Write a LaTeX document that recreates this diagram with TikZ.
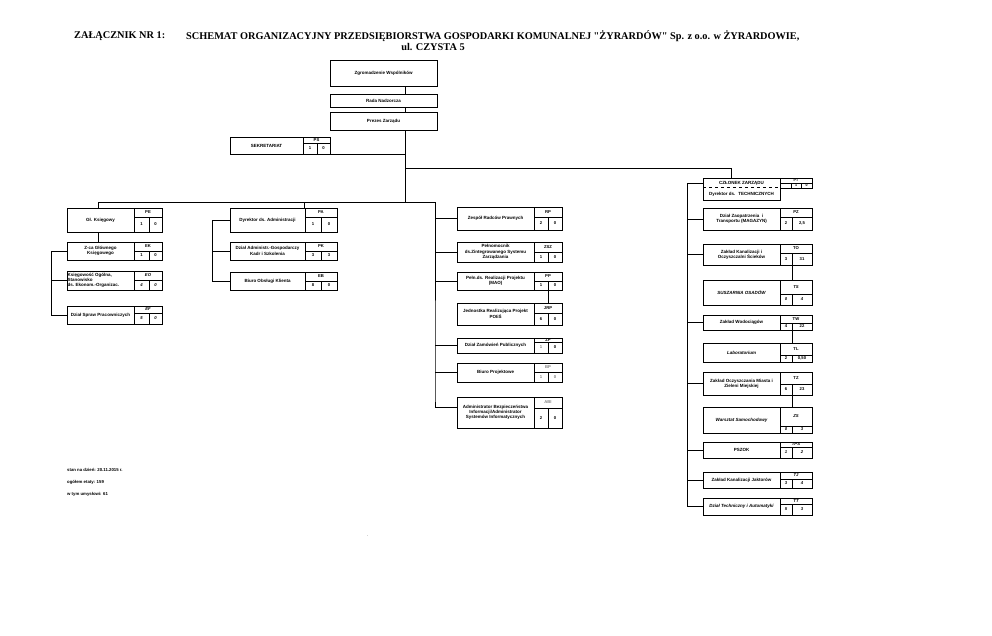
\documentclass[tikz,border=0pt]{standalone}
\usepackage{fontspec}
\setmainfont{Liberation Sans}
\newfontfamily\titlefont{Liberation Serif}
\usetikzlibrary{calc}
\def\splitthree#1/#2/#3\relax{\def\xc{#1}\def\xs{#2}\def\ym{#3}}
\def\splitcodes#1/#2/#3\relax{\def\cA{#1}\def\cB{#2}\def\cC{#3}}
\newcommand\obox[9]{%
  \splitthree#6\relax\splitcodes#8\relax
  \pgfmathsetmacro\bw{#4-#2}\pgfmathsetmacro\bh{#5-#3}%
  \node[boxnode, minimum width=\bw pt, minimum height=\bh pt, anchor=north west] (#1) at (#2,#3) {};
  \node[labtext] (#1-l) at ({(#2+\xc)/2},{(#3+#5)/2}) {#7};
  \draw[inline] (\xc,#3) -- (\xc,#5) (\xc,\ym) -- (#4,\ym) (\xs,\ym) -- (\xs,#5);
  \node[codetext,#9] (#1-c) at ({(\xc+#4)/2},{(#3+\ym)/2}) {\cA};
  \node[codetext,#9] (#1-n) at ({(\xc+\xs)/2},{(\ym+#5)/2}) {\cB};
  \node[codetext,#9] (#1-m) at ({(\xs+#4)/2},{(\ym+#5)/2}) {\cC};
}
\tikzset{
  boxnode/.style={draw, line width=1pt, inner sep=0pt, outer sep=0pt, rectangle},
  labtext/.style={font=\fontsize{4.5}{5.3}\selectfont\bfseries, align=center, inner sep=0pt},
  codetext/.style={font=\fontsize{4.2}{5}\selectfont\bfseries, inner sep=0pt},
  ital/.style={execute at begin node=\itshape},
  inline/.style={line width=0.75pt},
  conn/.style={line width=0.85pt},
  stat/.style={font=\fontsize{4.3}{5}\selectfont\bfseries, anchor=west, inner sep=0pt},
  ttl/.style={font=\titlefont\fontsize{10.3}{12}\selectfont\bfseries, inner sep=0pt}
}
\begin{document}
\begin{tikzpicture}[x=1pt, y=-1pt]
\fill[white] (0,0) rectangle (992,635);
\useasboundingbox (0,0) rectangle (992,635);

% title
\node[ttl, anchor=west] (t0) at (74,36) {ZAŁĄCZNIK NR 1:};
\node[ttl, anchor=west] (t1) at (186,36) {SCHEMAT ORGANIZACYJNY PRZEDSIĘBIORSTWA GOSPODARKI KOMUNALNEJ "ŻYRARDÓW" Sp. z o.o. w ŻYRARDOWIE,};
\node[ttl] (t2) at (433,47) {ul. CZYSTA 5};

% top boxes
\node[boxnode, labtext, minimum width=107pt, minimum height=26pt, anchor=north west] (zw) at (330,60) {Zgromadzenie Wspólników};
\node[boxnode, labtext, minimum width=107pt, minimum height=13pt, anchor=north west] (rn) at (330,94) {Rada Nadzorcza};
\node[boxnode, labtext, minimum width=107pt, minimum height=18pt, anchor=north west] (pr) at (330,112) {Prezes Zarządu};
\obox{sek}{230}{137}{330}{154}{303/317/143}{SEKRETARIAT}{PS/1/0}{}

% left column
\obox{pe}{67}{208}{162}{232}{134/149/217}{Gł. Księgowy}{PE/1/0}{}
\obox{ek}{67}{242}{162}{260}{134/149/251}{Z-ca Głównego\\Księgowego}{EK/1/0}{}
\obox{eo}{67}{271}{162}{290}{134/149/280}{\parbox{66pt}{\raggedright Księgowość Ogólna,\\Stanowisko\\ds. Ekonom.-Organizac.}}{EO/4/0}{ital}
\obox{ef}{67}{306}{162}{324}{134/149/313}{Dział Spraw Pracowniczych}{EF/5/0}{ital}

% administration column
\obox{pa}{230}{208}{337}{232}{305/321/217}{Dyrektor ds. Administracji}{PA/1/0}{}
\obox{pk}{230}{242}{337}{260}{305/321/251}{Dział Administr.-Gospodarczy\\Kadr i Szkolenia}{PK/3/3}{}
\obox{eb}{230}{272}{337}{290}{305/321/281}{Biuro Obsługi Klienta}{EB/8/0}{}

% middle column
\obox{rp}{457}{207}{562}{230}{534/548/217}{Zespół Radców Prawnych}{RP/2/0}{}
\obox{zsz}{457}{242}{562}{262}{534/548/252}{Pełnomocnik\\ds.Zintegrowanego Systemu\\Zarządzania}{ZSZ/1/0}{}
\obox{pp}{457}{272}{562}{290}{534/548/281}{Pełn.ds. Realizacji Projektu\\(MAO)}{PP/1/0}{}
\obox{jrp}{457}{303}{562}{325}{534/548/313}{Jednostka Realizująca Projekt\\POIiŚ}{JRP/6/0}{}
\obox{zp}{457}{338}{562}{353}{534/548/342}{Dział Zamówień Publicznych}{ZP/\textcolor{gray}{1}/0}{}
\obox{bp}{457}{363}{562}{382}{534/548/372}{Biuro Projektowe}{\textcolor{gray}{BP}/\textcolor{gray}{1}/\textcolor{gray}{0}}{}
\obox{abi}{457}{397}{562}{428}{534/548/408}{Administrator Bezpieczeństwa\\Informacji/Administrator\\Systemów Informatycznych}{\textcolor{gray}{ABI}/2/0}{}

% right column
\node[boxnode, minimum width=77pt, minimum height=22pt, anchor=north west] (cz) at (703,178) {};
\draw[inline, dashed] ([yshift=-9pt]cz.north west) -- ([yshift=-9pt]cz.north east);
\node[labtext] (cz-a) at (741.5,183) {CZŁONEK ZARZĄDU};
\node[labtext] (cz-b) at (741.5,194) {Dyrektor ds.~ TECHNICZNYCH};
\node[boxnode, minimum width=32pt, minimum height=10pt, anchor=north west] (ptc) at (780,178) {};
\draw[inline] (780,183) -- (812,183) (791,183) -- (791,188) (801,183) -- (801,188);
\node[codetext, font=\fontsize{3.6}{4}\selectfont\bfseries] (pt-c) at (796,180.5) {PT};
\node[codetext, font=\fontsize{3.6}{4}\selectfont\bfseries] (pt-n) at (796,185.6) {1};
\node[codetext, font=\fontsize{3.6}{4}\selectfont\bfseries] (pt-m) at (806.5,185.6) {0};

\obox{pz}{703}{208}{812}{230}{780/792/217}{Dział Zaopatrzenia~ i\\Transportu (MAGAZYN)}{PZ/2/2,5}{}
\obox{to}{703}{244}{812}{265}{780/792/253}{Zakład Kanalizacji i\\Oczyszczalni Ścieków}{TO/3/31}{}
\obox{ts}{703}{280}{812}{305}{780/792/294}{\itshape SUSZARNIA OSADÓW}{TS/0/4}{ital}
\obox{tw}{703}{315}{812}{330}{780/792/323}{Zakład Wodociągów}{TW/4/22}{}
\obox{tl}{703}{343}{812}{362}{780/792/355}{\itshape Laboratorium}{TL/2/0,50}{}
\obox{tz}{703}{372}{812}{395}{780/792/384}{Zakład Oczyszczania Miasta i\\Zieleni Miejskiej}{TZ/6/23}{}
\obox{zs}{703}{407}{812}{433}{780/792/426}{\itshape Warsztat Samochodowy}{ZS/0/3}{ital}
\obox{tps}{703}{442}{812}{458}{780/792/447}{PSZOK}{TPS/1/2}{ital}
\obox{tj}{703}{472}{812}{488}{780/792/479}{Zakład Kanalizacji Jaktorów}{TJ/3/4}{ital}
\obox{tt}{703}{498}{812}{515}{780/792/504}{\itshape Dział Techniczny i Automatyki}{TT/5/3}{ital}

% connector coordinates
\coordinate (j1) at (405,168);
\coordinate (j2) at (405,202);
\coordinate (cj) at (731,168);
\coordinate (lc) at (98,202);
\coordinate (ac) at (304,202);
\coordinate (mr) at (435,202);
\coordinate (lr) at (51,0);
\coordinate (ar) at (212,0);
\coordinate (rr) at (687,183);
\coordinate (ppx) at (548,0);
\coordinate (rx) at (792.5,0);

% connectors
\draw[conn] (zw.south -| j1) -- (rn.north -| j1);
\draw[conn] (rn.south -| j1) -- (pr.north -| j1);
\draw[conn] (pr.south -| j1) -- (j2);
\draw[conn] (sek.south east) -- (sek.south east -| j1);
\draw[conn] (j1) -- (cj) -- (cj |- cz.north);
\draw[conn] (lc) -- (mr);
\draw[conn] (lc) -- (lc |- pe.north);
\draw[conn] (ac) -- (ac |- pa.north);
\draw[conn] (pe.south -| lc) -- (ek.north -| lc);
\draw[conn] (ek.west) -- (ek.west -| lr) -- (ef.west -| lr) -- (ef.west);
\draw[conn] (eo.west -| lr) -- (eo.west);
\draw[conn] (pa.west) -- (pa.west -| ar) -- (eb.west -| ar) -- (eb.west);
\draw[conn] (pk.west -| ar) -- (pk.west);
\draw[conn] (mr) -- (mr |- abi.north west) -- ++(0,10) -- ([yshift=-10pt]abi.north west);
\draw[conn] (mr |- rp.west) -- (rp.west);
\draw[conn] (mr |- zsz.west) -- (zsz.west);
\draw[conn] (mr |- pp.west) -- (pp.west);
\draw[conn] (mr |- zp.west) -- (zp.west);
\draw[conn] (mr |- bp.west) -- (bp.west);
\draw[conn] (pp.south -| ppx) -- (jrp.north -| ppx);
\draw[conn] (rr) -- (rr -| cz.west);
\draw[conn] (rr) -- (rr |- tt.west) -- (tt.west);
\draw[conn] (rr |- pz.west) -- (pz.west);
\draw[conn] (rr |- to.west) -- (to.west);
\draw[conn] (rr |- tw.west) -- (tw.west);
\draw[conn] (rr |- tz.west) -- (tz.west);
\draw[conn] (rr |- tps.west) -- (tps.west);
\draw[conn] (rr |- tj.west) -- (tj.west);
\draw[conn] (to.south -| rx) -- (ts.north -| rx);
\draw[conn] (tw.south -| rx) -- (tl.north -| rx);
\draw[conn] (tz.south -| rx) -- (zs.north -| rx);

% notes
\node[stat] (s1) at (67,470) {stan na dzień: 20.11.2015 r.};
\node[stat] (s2) at (67,482) {ogółem etaty: 159};
\node[stat] (s3) at (67,494) {w tym umysłowi: 61};
\node[inner sep=0pt, font=\fontsize{4}{4}\selectfont] (dot) at (368,536) {.};
\end{tikzpicture}
\end{document}
